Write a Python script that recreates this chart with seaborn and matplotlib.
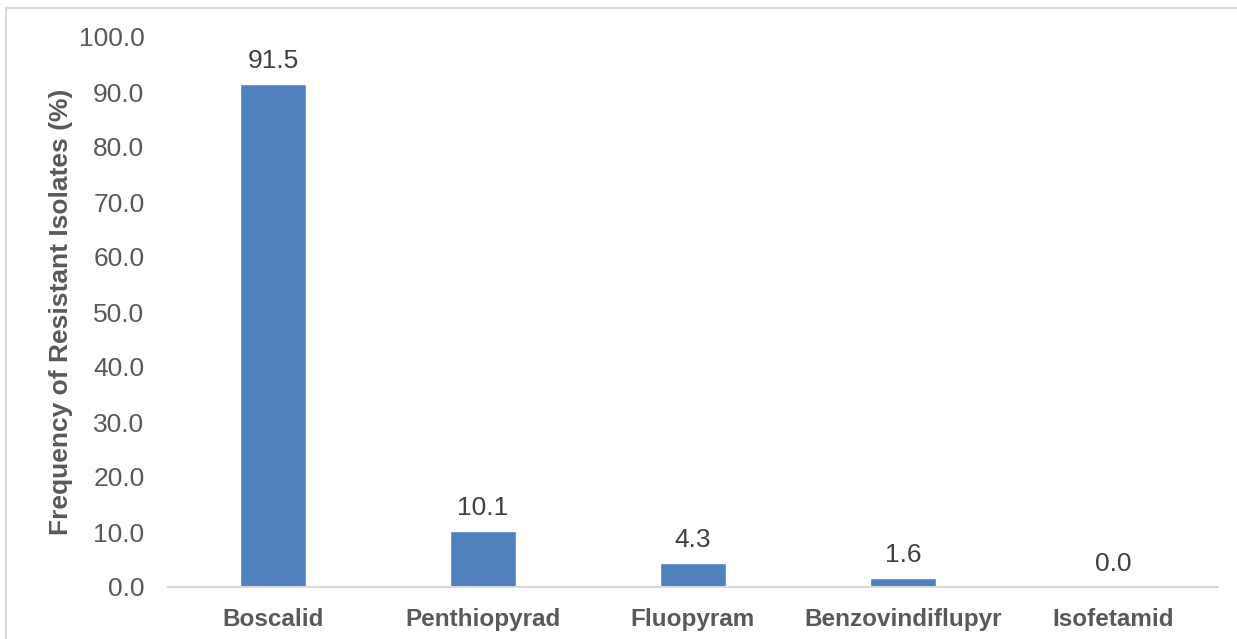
import matplotlib
matplotlib.use("Agg")
import matplotlib.pyplot as plt
import matplotlib.patches as mpatches
import seaborn as sns
import pandas as pd

fungicides = ["Boscalid", "Penthiopyrad", "Fluopyram", "Benzovindiflupyr", "Isofetamid"]
resistant_pct = [91.5, 10.1, 4.3, 1.6, 0.0]
y_ticks = [0, 10, 20, 30, 40, 50, 60, 70, 80, 90, 100]

sns.set_theme(style="white")
plt.rcParams["font.family"] = ["Liberation Sans", "DejaVu Sans"]

W, H = 1237, 639
fig = plt.figure(figsize=(W / 100, H / 100), dpi=100)
ax = fig.add_axes([168 / W, (H - 587) / H, (1218 - 168) / W, (587 - 37) / H])

df = pd.DataFrame({"fungicide": fungicides, "pct": resistant_pct})
sns.barplot(data=df, x="fungicide", y="pct", color="#4F81BD", saturation=1,
            width=0.31, ax=ax)

text_gray = "#595959"
for i, v in enumerate(resistant_pct):
    ax.annotate(f"{v:.1f}", (i, v), xytext=(0, 8), textcoords="offset points",
                ha="center", va="bottom", fontsize=19, color="#404040")

ax.set_ylim(0, 100)
ax.set_yticks(y_ticks)
ax.set_yticklabels([f"{t:.1f}" for t in y_ticks], fontsize=19, color=text_gray)
ax.set_xticks(range(len(fungicides)))
ax.set_xticklabels(fungicides, fontsize=17.5, fontweight="bold", color=text_gray)
ax.tick_params(axis="both", length=0)
ax.tick_params(axis="y", pad=17)
ax.tick_params(axis="x", pad=15)
ax.set_xlabel("")
ax.set_ylabel("Frequency of Resistant Isolates (%)", fontsize=19,
              fontweight="bold", color=text_gray, labelpad=4)
ax.set_xlim(-0.5, len(fungicides) - 0.5)

for s in ["top", "right", "left"]:
    ax.spines[s].set_visible(False)
ax.spines["bottom"].set_color("#D9D9D9")
ax.spines["bottom"].set_linewidth(1.5)

# Chart frame
frame = mpatches.Rectangle((6 / W, -0.05), 1.1, (H - 8) / H + 0.05,
                           transform=fig.transFigure, fill=False,
                           edgecolor="#D9D9D9", linewidth=1.5, clip_on=False)
fig.add_artist(frame)

fig.savefig("out.png", dpi=100, facecolor="white")
